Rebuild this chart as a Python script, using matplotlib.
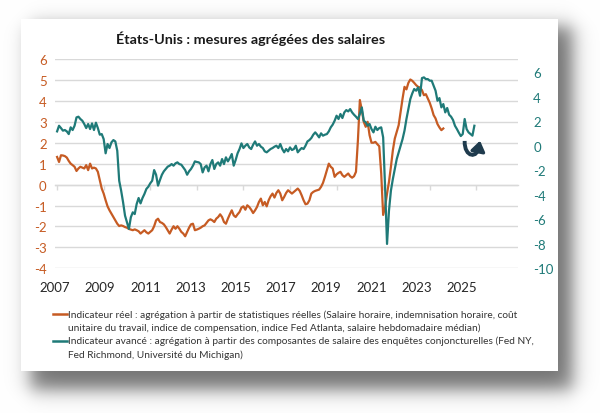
import numpy as np
import matplotlib
matplotlib.use("Agg")
import matplotlib.pyplot as plt
from matplotlib.patches import Rectangle, PathPatch
from matplotlib.path import Path
from matplotlib.lines import Line2D

# ---------------- data (monthly, starting January 2007) ----------------
start_year = 2007
reel = [1.32, 1.08, 1.40, 1.39, 1.36, 1.29, 1.13, 1.00, 0.93, 0.85, 0.65, 0.77,
        0.85, 0.81, 0.77, 0.93, 0.69, 1.00, 0.77, 0.81, 0.77, 0.61, 0.21, -0.19,
        -0.43, -0.75, -1.04, -1.23, -1.39, -1.55, -1.71, -1.87, -1.98, -1.95, -1.98, -2.03,
        -2.06, -2.12, -2.15, -2.18, -2.14, -2.18, -2.23, -2.34, -2.26, -2.18, -2.28, -2.34,
        -2.26, -2.18, -1.99, -1.71, -1.63, -1.79, -1.83, -1.90, -2.03, -2.18, -2.34, -2.15,
        -1.99, -2.11, -1.99, -2.11, -2.26, -2.34, -2.47, -2.26, -2.06, -1.90, -1.87, -2.18,
        -2.15, -2.11, -2.06, -1.99, -1.95, -1.83, -1.71, -1.66, -1.71, -1.79, -1.63, -1.55,
        -1.42, -1.55, -1.79, -1.87, -1.63, -1.42, -1.23, -1.47, -1.55, -1.42, -1.31, -1.10,
        -1.04, -1.20, -0.99, -1.07, -1.20, -1.36, -1.23, -1.07, -0.83, -0.67, -0.99, -0.83,
        -1.04, -0.75, -0.56, -0.43, -0.62, -0.40, -0.27, -0.43, -0.75, -0.59, -0.40, -0.27,
        -0.35, -0.43, -0.35, -0.27, -0.19, -0.30, -0.51, -0.75, -0.94, -0.91, -0.75, -0.43,
        -0.35, -0.30, -0.27, -0.24, -0.11, 0.08, 0.37, 0.69, 1.00, 0.85, 0.77, 0.37,
        0.49, 0.56, 0.61, 0.45, 0.37, 0.45, 0.53, 0.40, 0.33, 0.40, 0.61, 2.12,
        4.04, 3.56, 3.00, 2.76, 3.00, 2.36, 2.00, 2.00, 2.04, 1.93, 1.83, 0.53,
        -1.45, -1.07, -0.43, 0.13, 0.85, 1.64, 2.20, 2.52, 2.84, 3.48, 4.11, 4.67,
        4.55, 4.86, 5.02, 4.96, 4.86, 4.75, 4.67, 4.64, 4.51, 4.27, 4.32, 4.11,
        3.91, 3.64, 3.32, 3.16, 2.89, 2.73, 2.60, 2.68]

avance = [1.18, 1.64, 1.45, 1.24, 1.29, 1.18, 0.96, 1.51, 1.29, 1.64, 2.32, 2.38,
          2.19, 2.05, 1.78, 1.45, 1.78, 1.37, 1.83, 1.29, 1.89, 1.45, 0.91, 0.96,
          0.55, -0.61, 0.15, -0.18, 0.28, 0.47, 0.36, -0.40, -2.85, -3.66, -4.61, -5.70,
          -6.24, -6.79, -5.83, -5.43, -5.57, -4.75, -4.26, -4.70, -4.26, -3.93, -3.52, -3.34,
          -3.06, -2.85, -1.98, -2.36, -3.25, -2.79, -2.36, -2.08, -1.89, -1.70, -1.62, -1.49,
          -1.62, -1.43, -1.35, -1.49, -1.54, -1.76, -1.98, -2.36, -2.08, -1.89, -1.62, -1.27,
          -1.32, -1.35, -1.49, -2.17, -1.76, -1.62, -2.08, -1.49, -1.16, -1.89, -1.49, -1.35,
          -1.62, -1.08, -1.49, -0.94, -1.27, -1.00, -0.67, -1.62, -1.16, -0.61, -0.26, 0.20,
          -0.18, 0.01, 0.15, -0.13, -0.26, 0.09, 0.36, 0.01, 0.15, -0.07, -0.18, -0.45,
          -0.53, -0.40, -0.26, -0.18, -0.07, 0.01, -0.18, 0.15, -0.26, -0.53, -0.26, -0.45,
          -0.13, -0.34, -0.26, 0.01, -0.53, -0.34, -0.18, -0.26, 0.01, 0.36, 0.47, 0.64,
          0.91, 1.10, 0.91, 0.69, 1.02, 0.83, 0.91, 0.96, 1.18, 1.51, 1.73, 2.05,
          2.46, 2.19, 2.60, 2.27, 2.73, 2.92, 2.81, 3.00, 2.73, 2.54, 2.38, 2.19,
          2.60, 3.14, 2.05, 1.92, 1.64, 1.78, 1.37, 1.10, 1.56, 1.29, 1.45, 1.51,
          0.69, -3.40, -8.01, -5.29, -3.66, -2.71, -1.89, -1.08, -0.53, 0.01, 0.55, 1.24,
          2.19, 3.00, 3.82, 4.28, 4.64, 4.50, 4.77, 4.09, 5.53, 5.59, 5.45, 5.45,
          5.32, 5.32, 4.91, 4.50, 3.68, 3.90, 3.14, 3.41, 2.73, 3.09, 2.54, 2.38,
          2.11, 1.64, 1.37, 1.07, 0.80, 0.96, 2.19, 1.37, 1.10, 0.96, 0.83, 1.64]

x_tick_years = [2007, 2009, 2011, 2013, 2015, 2017, 2019, 2021, 2023, 2025]
left_ticks = [6, 5, 4, 3, 2, 1, 0, -1, -2, -3, -4]
right_ticks = [6, 4, 2, 0, -2, -4, -6, -8, -10]

title = "États-Unis : mesures agrégées des salaires"
legend_reel = ["Indicateur réel : agrégation à partir de statistiques réelles (Salaire horaire, indemnisation horaire, coût",
               "unitaire du travail, indice de compensation, indice Fed Atlanta, salaire hebdomadaire médian)"]
legend_avance = ["Indicateur avancé : agrégation à partir des composantes de salaire des enquêtes conjoncturelles (Fed NY,",
                 "Fed Richmond, Université du Michigan)"]

# ---------------- style ----------------
ORANGE = "#C65B23"
TEAL = "#1F7A78"
ARROW = "#1F3B4D"
GRID = "#D9D9D9"
FONT = "Lato"
plt.rcParams["font.family"] = [FONT, "DejaVu Sans"]

W, H = 600, 414
fig = plt.figure(figsize=(6.0, 4.14), dpi=100)
fig.patch.set_facecolor("white")

# background: drop shadow + white card
bg = fig.add_axes([0, 0, 1, 1], zorder=-5)
bg.set_axis_off()
yy, xx = np.mgrid[0:H, 0:W].astype(float)
def soft(v, a, b, k):
    return 0.25 * (1 + np.tanh(k * (v - a))) * (1 + np.tanh(k * (b - v)))
shadow = soft(xx, 30, 572, 0.09) * soft(yy, 27, 390, 0.09)
dark = 0.55 * shadow
img = np.ones((H, W, 3)) * (1 - dark)[..., None]
bg.imshow(img, extent=[0, W, H, 0], aspect="auto", interpolation="bilinear")
bg.add_patch(Rectangle((21, 20), 537, 352, facecolor="white", edgecolor="none"))
bg.set_xlim(0, W)
bg.set_ylim(H, 0)

# main axes
L, R, T, B = 55, 518, 60, 269.3
ax = fig.add_axes([L / W, 1 - B / H, (R - L) / W, (B - T) / H], zorder=1)
ax.patch.set_alpha(0)
ax2 = ax.twinx()

xr = start_year + np.arange(len(reel)) / 12.0
xa = start_year + np.arange(len(avance)) / 12.0

ax.plot(xr, reel, color=ORANGE, lw=1.6, solid_joinstyle="round", zorder=3)
ax2.plot(xa, avance, color=TEAL, lw=1.6, solid_joinstyle="round", zorder=3)

ax.set_xlim(2007, 2026.79)
ax.set_ylim(-4, 6)
ax2.set_ylim(-10, 7.09)

ax.set_yticks(left_ticks)
ax.set_yticklabels([str(v) for v in left_ticks])
ax2.set_yticks(right_ticks)
ax2.set_yticklabels([str(v) for v in right_ticks])
ax.grid(axis="y", color=GRID, lw=1.0)
ax.set_axisbelow(True)

for a in (ax, ax2):
    for s in a.spines.values():
        s.set_visible(False)
ax.tick_params(axis="y", length=0, pad=6, labelsize=9.5, labelcolor=ORANGE)
ax2.tick_params(axis="y", length=0, pad=11, labelsize=9.5, labelcolor=TEAL)
for lab in ax2.get_yticklabels():
    lab.set_horizontalalignment("left")

# x tick labels at the bottom (Excel places them slightly left of the ticks)
label_pos = [y - 0.09 - 0.03 * (y - start_year) for y in x_tick_years]
ax.set_xticks(label_pos)
ax.set_xticklabels([str(y) for y in x_tick_years])
ax.tick_params(axis="x", length=0, pad=9, labelsize=9.5, labelcolor="#262626")

# horizontal axis line with tick marks at zero
sec = ax.secondary_xaxis(0.4)
sec.set_xticks(x_tick_years)
sec.set_xticklabels([])
sec.tick_params(axis="x", length=3.5, color=GRID, width=1.0, direction="out")
sec.spines["bottom"].set_color(GRID)
sec.spines["bottom"].set_linewidth(1.0)
for k in ("top", "left", "right"):
    if k in sec.spines:
        sec.spines[k].set_visible(False)

# curved U-shaped arrow at the end of the advanced indicator
u_path = Path([(2024.50, 0.40), (2024.48, -1.00), (2025.08, -1.05), (2025.10, -0.05)],
              [Path.MOVETO, Path.CURVE4, Path.CURVE4, Path.CURVE4])
ax2.add_patch(PathPatch(u_path, facecolor="none", edgecolor=ARROW, lw=2.8,
                        capstyle="butt", zorder=5))
ax2.annotate("", xy=(2025.16, 0.42), xytext=(2025.10, -0.15),
             arrowprops=dict(arrowstyle="-|>,head_length=0.5,head_width=0.35",
                             color=ARROW, lw=2.4, mutation_scale=12,
                             shrinkA=0, shrinkB=0),
             zorder=6)

# title
fig.text(250.5 / W, 1 - 39 / H, title, ha="center", va="center",
         fontsize=10.4, fontweight="bold", color="#1a1a1a")

# legend
leg_fs = 7.3
rows = [(legend_reel, ORANGE, 315), (legend_avance, TEAL, 341.7)]
for lines, col, y0 in rows:
    fig.add_artist(Line2D([53 / W, 67 / W], [1 - y0 / H, 1 - y0 / H],
                          color=col, lw=1.8, transform=fig.transFigure))
    for i, t in enumerate(lines):
        fig.text(68 / W, 1 - (y0 + 13.3 * i) / H, t, ha="left", va="center",
                 fontsize=leg_fs, color="#333333")

fig.savefig("out.png", dpi=100)
